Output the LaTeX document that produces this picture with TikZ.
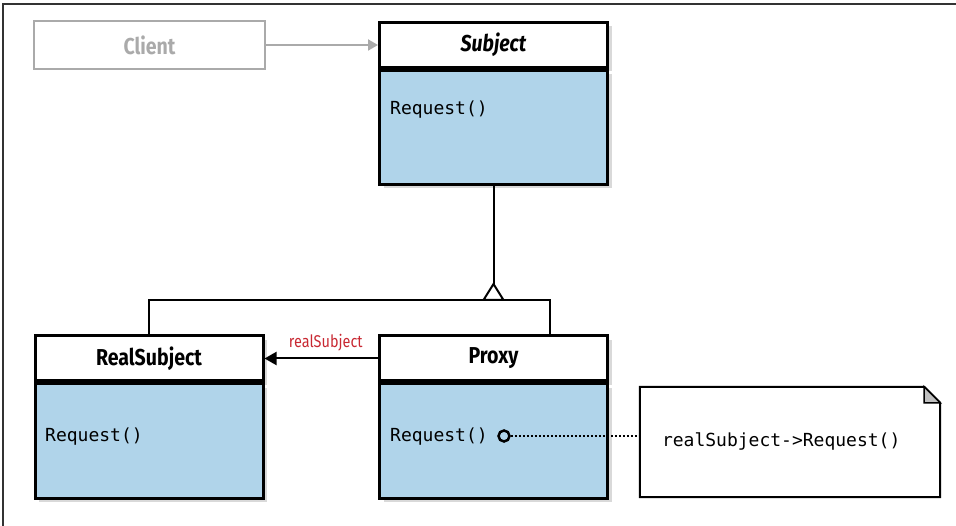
\documentclass[tikz,border=0pt]{standalone}
\usepackage{fontspec}
\setmainfont[FakeStretch=0.85]{Fira Sans}
\setmonofont{DejaVu Sans Mono}
\usepackage{tikz}
\usetikzlibrary{arrows.meta,positioning,shadows}
\definecolor{classblue}{RGB}{176,212,234}
\definecolor{linkred}{RGB}{200,40,50}
\definecolor{clientgray}{RGB}{170,170,170}

\begin{document}
\begin{tikzpicture}[x=1pt, y=-1pt,
  shade/.style={drop shadow={shadow xshift=4pt,shadow yshift=-4pt,opacity=.3}},
  head/.style={draw,line width=3pt,fill=white,shade,minimum width=228pt,minimum height=45pt,inner sep=0pt,font=\fontsize{23}{26}\selectfont\bfseries},
  body/.style={draw,line width=3pt,fill=classblue,shade,minimum width=228pt,minimum height=114pt,inner sep=0pt},
  op/.style={anchor=west,inner sep=0pt,font=\fontsize{18}{21}\selectfont\ttfamily},
  client/.style={draw=clientgray,text=clientgray,line width=2.5pt,minimum width=231pt,minimum height=48pt,font=\fontsize{23}{26}\selectfont\bfseries},
  conn/.style={line width=2pt},
  assoc/.style={conn,-{Triangle[length=12pt,width=13pt]}},
  use/.style={conn,clientgray,-{Triangle[length=10pt,width=11pt]}}]
\useasboundingbox (0,0) rectangle (956,526);
\draw[line width=1.5pt,black!80] (3,526) -- (3,4) -- (956,4);
\node[client] (client) at (149.5,45) {Client};
\node[head] (subj) at (493.5,45) {\itshape Subject};
\node[body,below=0pt of subj] (subjbody) {};
\node[op] (subjop) at (390,110) {Request()};
\node[head] (real) at (149,358.5) {RealSubject};
\node[body,below=0pt of real] (realbody) {};
\node[op] (realop) at (45,437) {Request()};
\node[head] (proxy) at (493.5,358.5) {Proxy};
\node[body,below=0pt of proxy] (proxybody) {};
\node[op] (proxyop) at (390,437) {Request()};
\node[circle,draw,line width=2.5pt,minimum size=11pt,inner sep=0pt] (hook) at (504,436) {};
\node[text width=256pt,inner xsep=22pt,align=left,minimum height=110pt,font=\fontsize{18}{21}\selectfont\ttfamily] (note) at (790,442) {realSubject->Request()};
\draw[line width=2pt,line join=miter] (note.south west) -- (note.north west) -- ([xshift=-16pt]note.north east) -- ([yshift=-16pt]note.north east) -- (note.south east) -- cycle;
\draw[line width=1.5pt,fill=black!25] ([xshift=-16pt]note.north east) -- ([xshift=-16pt,yshift=-16pt]note.north east) -- ([yshift=-16pt]note.north east) -- cycle;
\draw[use] (client) -- (subj);
\coordinate (jn) at (493.5,300);
\draw[conn] (subjbody) -- (jn);
\draw[conn] (real.north) |- (jn) -| ([xshift=56.5pt]proxy.north);
\draw[conn,fill=white,line join=miter] (jn) ++(-10,0) -- ++(10,-16) -- ++(10,16) -- cycle;
\draw[assoc] (proxy) -- (real) node[pos=.46,above=3pt,text=linkred,font=\fontsize{17}{20}\selectfont] {realSubject};
\draw[line width=2.5pt,dash pattern=on 2pt off 2pt] (hook) -- (hook -| note.west);
\end{tikzpicture}
\end{document}
